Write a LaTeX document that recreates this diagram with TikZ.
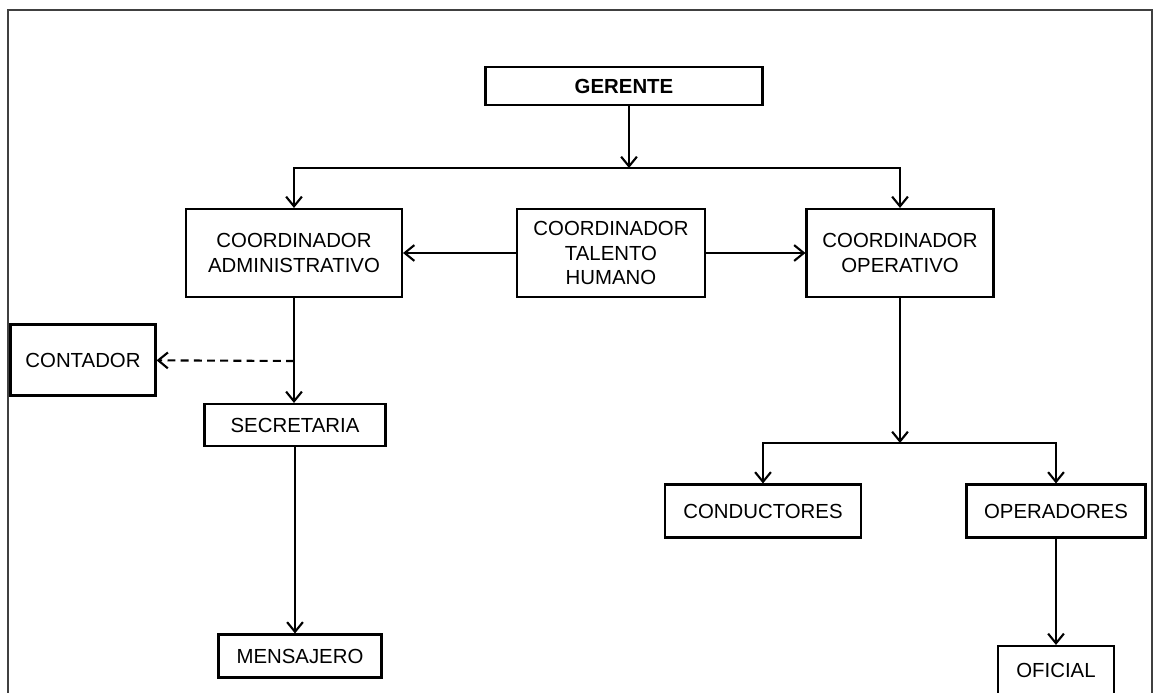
\documentclass[tikz,border=0pt]{standalone}
\usepackage{fontspec}
\setmainfont{Liberation Sans}
\usetikzlibrary{arrows.meta}

\tikzset{
  caja/.style={draw, line width=1.2pt, fill=white, inner sep=0pt, align=center,
    font=\fontsize{11.6}{14.2}\selectfont},
  flecha/.style={line width=1.2pt, -{Straight Barb[length=5.5pt,width=9pt,line width=1.2pt]}},
  marco/.style={line width=1.2pt, draw=black!75}
}

\begin{document}
\begin{tikzpicture}[x=0.02cm,y=-0.02cm]
    \useasboundingbox (0,0) rectangle (1154,693);
    \clip (0,0) rectangle (1154,693);
    \draw[marco] (8,700)--(8,10)--(1152,10)--(1152,700);

    % cajas
    \node[caja, minimum width=5.54cm, minimum height=0.76cm, font=\fontsize{11.6}{14.2}\selectfont\bfseries] (ger) at (624,86) {GERENTE};
    \node[caja, minimum width=4.32cm, minimum height=1.76cm] (adm) at (294,253) {COORDINADOR\\ADMINISTRATIVO};
    \node[caja, minimum width=3.76cm, minimum height=1.76cm] (tal) at (611,253) {COORDINADOR\\TALENTO\\HUMANO};
    \node[caja, minimum width=3.74cm, minimum height=1.76cm] (ope) at (900,253) {COORDINADOR\\OPERATIVO};
    \node[caja, minimum width=2.9cm, minimum height=1.42cm] (con) at (83,360) {CONTADOR};
    \node[caja, minimum width=3.62cm, minimum height=0.84cm] (sec) at (295,425) {SECRETARIA};
    \node[caja, minimum width=3.26cm, minimum height=0.86cm] (men) at (300,656) {MENSAJERO};
    \node[caja, minimum width=3.92cm, minimum height=1.06cm] (cond) at (763,511) {CONDUCTORES};
    \node[caja, minimum width=3.58cm, minimum height=1.06cm] (oper) at (1056,511) {OPERADORES};
    \node[caja, minimum width=2.32cm, minimum height=0.96cm] (ofi) at (1056,670) {OFICIAL};

    % ramales
    \coordinate (b1) at (629,168);
    \coordinate (b2) at (294,361);
    \coordinate (b3) at (900,443);

    \draw[flecha] (ger.south -| b1) -- (b1);
    \draw[flecha] (b1) -| (adm);
    \draw[flecha] (b1) -| (ope);
    \draw[flecha] (tal) -- (adm);
    \draw[flecha] (tal) -- (ope);

    \draw[line width=1.2pt] (adm) -- (b2);
    \draw[flecha] (b2) -- (b2 |- sec.north);
    \draw[flecha, dash pattern=on 4.5pt off 3pt] (b2) -- (con);
    \draw[flecha] (sec) -- (sec |- men.north);

    \draw[flecha] (ope) -- (b3);
    \draw[flecha] (b3) -| (cond);
    \draw[flecha] (b3) -| (oper);
    \draw[flecha] (oper) -- (ofi);
\end{tikzpicture}
\end{document}
